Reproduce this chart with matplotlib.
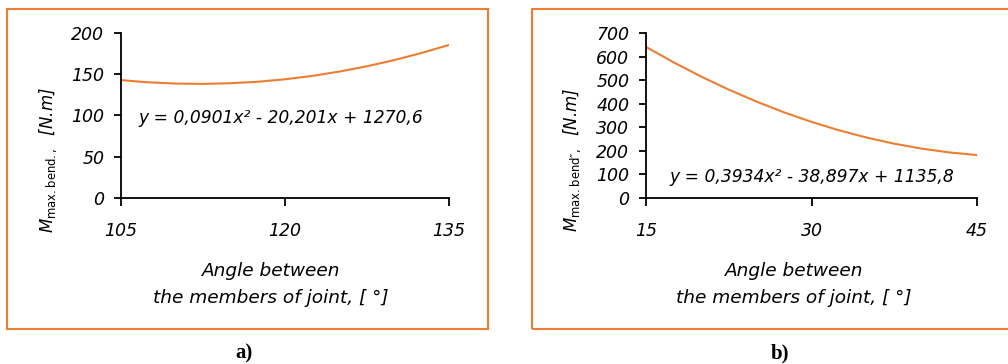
#!/usr/bin/env python3
'''Bending moment vs. joint angle, two panels a) and b)'''
import matplotlib
matplotlib.use("Agg")
import matplotlib.pyplot as plt
from matplotlib.patches import Rectangle

ORANGE = "#ED7D31"

# panel a) values
angle_a = [105, 107.5, 110, 112.5, 115, 117.5, 120, 122.5, 125, 127.5, 130, 132.5, 135]
moment_a = [142.9, 140.2, 138.7, 138.3, 139.1, 140.9, 143.9, 148.0, 153.3, 159.7, 167.2, 175.8, 185.5]
xticks_a = [105, 120, 135]
yticks_a = [0, 50, 100, 150, 200]
eq_a = "y = 0,0901x² - 20,201x + 1270,6"
ylabel_a = r"$\mathit{M}_{\mathrm{max.bend.,}}$  [N.m]"

# panel b)
angle_b = [15, 17.5, 20, 22.5, 25, 27.5, 30, 32.5, 35, 37.5, 40, 42.5, 45]
moment_b = [640.9, 575.6, 515.2, 459.8, 409.3, 363.6, 323.0, 287.2, 256.3, 230.4, 209.4, 193.3, 182.1]
xticks_b = [15, 30, 45]
yticks_b = [0, 100, 200, 300, 400, 500, 600, 700]
eq_b = "y = 0,3934x² - 38,897x + 1135,8"
ylabel_b = "$\\mathit{M}_{\\mathrm{max.bend\u2033,}}$  [N.m]"

xlabel = "Angle between\nthe members of joint, [ °]"

plt.rcParams["font.family"] = "DejaVu Sans"
plt.rcParams["mathtext.fontset"] = "custom"
plt.rcParams["mathtext.it"] = "DejaVu Sans:italic"
plt.rcParams["mathtext.rm"] = "DejaVu Sans"

fig = plt.figure(figsize=(10.08, 3.64), dpi=100)
W, H = 1008, 364


def panel(rect, x, y, xt, yt, eq, eq_pos, ylab, xlab_x):
    ax = fig.add_axes(rect)
    ax.plot(x, y, color=ORANGE, lw=1.5)
    ax.set_xlim(xt[0], xt[-1])
    ax.set_ylim(yt[0], yt[-1])
    ax.set_xticks(xt)
    ax.set_yticks(yt)
    for s in ("top", "right"):
        ax.spines[s].set_visible(False)
    for s in ("left", "bottom"):
        ax.spines[s].set_linewidth(1.3)
    ax.tick_params(axis="x", length=6, width=1.3, pad=11, labelsize=12.5)
    ax.tick_params(axis="y", length=5, width=1.3, pad=7, labelsize=12.5)
    for lab in ax.get_xticklabels() + ax.get_yticklabels():
        lab.set_fontstyle("italic")
    ax.text(eq_pos[0], eq_pos[1], eq, fontsize=12.3, fontstyle="italic",
            ha="center", va="center")
    ax.set_xlabel(xlabel, fontsize=13.3, fontstyle="italic", linespacing=1.65)
    ax.xaxis.set_label_coords(xlab_x, -0.385)
    ax.set_ylabel(ylab, fontsize=12, fontstyle="italic")
    ax.yaxis.set_label_coords(-0.19, 0.23)
    return ax


panel([121 / W, 1 - 198 / H, 328 / W, 165 / H], angle_a, moment_a,
      xticks_a, yticks_a, eq_a, (119.6, 97), ylabel_a, 0.457)
panel([646 / W, 1 - 198 / H, 331 / W, 165 / H], angle_b, moment_b,
      xticks_b, yticks_b, eq_b, (30, 89), ylabel_b, 0.447)

# orange frames round each panel
fig.patches.append(Rectangle((7 / W, 1 - 329 / H), 481 / W, 320 / H,
                             transform=fig.transFigure, fill=False,
                             edgecolor=ORANGE, lw=1.5))
fig.patches.append(Rectangle((532 / W, 1 - 329 / H), 480 / W, 320 / H,
                             transform=fig.transFigure, fill=False,
                             edgecolor=ORANGE, lw=1.5))

fig.text(244 / W, 1 - 353 / H, "a)", family="Liberation Serif",
         weight="bold", fontsize=15, ha="center", va="center")
fig.text(780 / W, 1 - 353 / H, "b)", family="Liberation Serif",
         weight="bold", fontsize=15, ha="center", va="center")

fig.savefig("out.png", dpi=100)
